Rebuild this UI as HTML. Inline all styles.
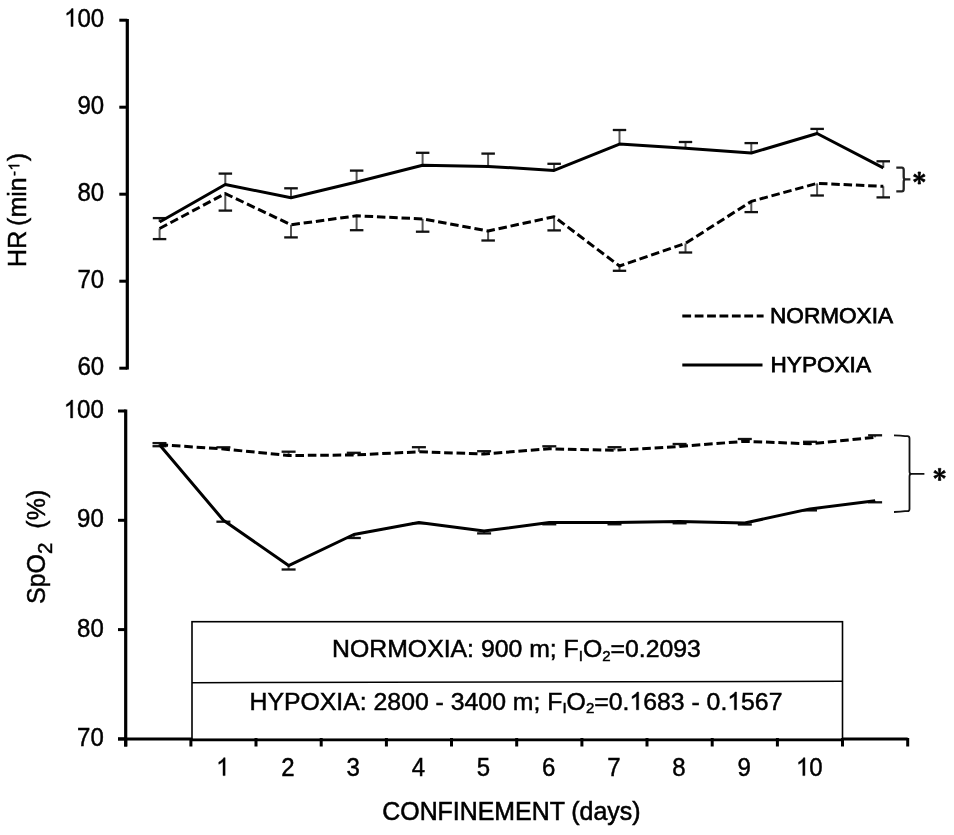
<!DOCTYPE html><html><head><meta charset="utf-8"><title>HR and SpO2 during confinement</title><style>
html,body{margin:0;padding:0;background:#fff;}
body{width:954px;height:835px;overflow:hidden;}
svg{display:block;will-change:transform;}
text{font-family:"Liberation Sans", sans-serif;fill:#000;}
.o{fill:none;}
</style></head><body>
<svg width="954" height="835" viewBox="0 0 954 835">
<defs><path id="one" d="M763,0 L583,0 L583,1147 Q518,1085 412,1023 Q306,961 223,930 L223,1104 Q372,1174 484,1274 Q596,1374 643,1466 L763,1466 Z"/></defs>
<rect width="954" height="835" fill="#fff"/>
<line x1="127.3" y1="19.0" x2="127.3" y2="369.5" stroke="#000" stroke-width="3.2" />
<line x1="119.3" y1="20.2" x2="127.3" y2="20.2" stroke="#000" stroke-width="3" />
<text transform="translate(104.20,26.50) scale(0.960,1)" x="0" y="0" font-size="25" text-anchor="end" stroke="#000" stroke-width="0.45"><tspan class="o" stroke="none">1</tspan>00</text>
<line x1="119.3" y1="107.2" x2="127.3" y2="107.2" stroke="#000" stroke-width="3" />
<text transform="translate(104.20,113.50) scale(0.960,1)" x="0" y="0" font-size="25" text-anchor="end" stroke="#000" stroke-width="0.45">90</text>
<line x1="119.3" y1="194.2" x2="127.3" y2="194.2" stroke="#000" stroke-width="3" />
<text transform="translate(104.20,200.50) scale(0.960,1)" x="0" y="0" font-size="25" text-anchor="end" stroke="#000" stroke-width="0.45">80</text>
<line x1="119.3" y1="281.2" x2="127.3" y2="281.2" stroke="#000" stroke-width="3" />
<text transform="translate(104.20,287.50) scale(0.960,1)" x="0" y="0" font-size="25" text-anchor="end" stroke="#000" stroke-width="0.45">70</text>
<line x1="119.3" y1="368.2" x2="127.3" y2="368.2" stroke="#000" stroke-width="3" />
<text transform="translate(104.20,374.50) scale(0.960,1)" x="0" y="0" font-size="25" text-anchor="end" stroke="#000" stroke-width="0.45">60</text>
<line x1="159.6" y1="222.0" x2="159.6" y2="218.1" stroke="#555" stroke-width="2" />
<line x1="152.8" y1="218.1" x2="166.3" y2="218.1" stroke="#111" stroke-width="2.3" />
<line x1="225.3" y1="184.5" x2="225.3" y2="173.6" stroke="#555" stroke-width="2" />
<line x1="218.6" y1="173.6" x2="232.1" y2="173.6" stroke="#111" stroke-width="2.3" />
<line x1="291.0" y1="197.7" x2="291.0" y2="188.3" stroke="#555" stroke-width="2" />
<line x1="284.2" y1="188.3" x2="297.8" y2="188.3" stroke="#111" stroke-width="2.3" />
<line x1="356.6" y1="182.0" x2="356.6" y2="170.6" stroke="#555" stroke-width="2" />
<line x1="349.9" y1="170.6" x2="363.4" y2="170.6" stroke="#111" stroke-width="2.3" />
<line x1="422.6" y1="165.3" x2="422.6" y2="152.8" stroke="#555" stroke-width="2" />
<line x1="415.9" y1="152.8" x2="429.4" y2="152.8" stroke="#111" stroke-width="2.3" />
<line x1="488.1" y1="166.4" x2="488.1" y2="153.6" stroke="#555" stroke-width="2" />
<line x1="481.4" y1="153.6" x2="494.9" y2="153.6" stroke="#111" stroke-width="2.3" />
<line x1="554.1" y1="170.4" x2="554.1" y2="163.8" stroke="#555" stroke-width="2" />
<line x1="547.4" y1="163.8" x2="560.9" y2="163.8" stroke="#111" stroke-width="2.3" />
<line x1="619.5" y1="144.1" x2="619.5" y2="130.0" stroke="#555" stroke-width="2" />
<line x1="612.8" y1="130.0" x2="626.2" y2="130.0" stroke="#111" stroke-width="2.3" />
<line x1="685.5" y1="148.3" x2="685.5" y2="142.0" stroke="#555" stroke-width="2" />
<line x1="678.8" y1="142.0" x2="692.2" y2="142.0" stroke="#111" stroke-width="2.3" />
<line x1="751.3" y1="153.0" x2="751.3" y2="143.1" stroke="#555" stroke-width="2" />
<line x1="744.5" y1="143.1" x2="758.0" y2="143.1" stroke="#111" stroke-width="2.3" />
<line x1="817.1" y1="133.5" x2="817.1" y2="128.9" stroke="#555" stroke-width="2" />
<line x1="810.4" y1="128.9" x2="823.9" y2="128.9" stroke="#111" stroke-width="2.3" />
<line x1="883.3" y1="167.8" x2="883.3" y2="161.3" stroke="#555" stroke-width="2" />
<line x1="876.5" y1="161.3" x2="890.0" y2="161.3" stroke="#111" stroke-width="2.3" />
<line x1="159.6" y1="228.5" x2="159.6" y2="239.1" stroke="#555" stroke-width="2" />
<line x1="152.8" y1="239.1" x2="166.3" y2="239.1" stroke="#111" stroke-width="2.3" />
<line x1="225.3" y1="193.6" x2="225.3" y2="210.6" stroke="#555" stroke-width="2" />
<line x1="218.6" y1="210.6" x2="232.1" y2="210.6" stroke="#111" stroke-width="2.3" />
<line x1="291.0" y1="224.8" x2="291.0" y2="237.4" stroke="#555" stroke-width="2" />
<line x1="284.2" y1="237.4" x2="297.8" y2="237.4" stroke="#111" stroke-width="2.3" />
<line x1="356.6" y1="215.8" x2="356.6" y2="230.2" stroke="#555" stroke-width="2" />
<line x1="349.9" y1="230.2" x2="363.4" y2="230.2" stroke="#111" stroke-width="2.3" />
<line x1="422.6" y1="218.9" x2="422.6" y2="231.7" stroke="#555" stroke-width="2" />
<line x1="415.9" y1="231.7" x2="429.4" y2="231.7" stroke="#111" stroke-width="2.3" />
<line x1="488.1" y1="231.0" x2="488.1" y2="240.5" stroke="#555" stroke-width="2" />
<line x1="481.4" y1="240.5" x2="494.9" y2="240.5" stroke="#111" stroke-width="2.3" />
<line x1="554.1" y1="216.7" x2="554.1" y2="230.4" stroke="#555" stroke-width="2" />
<line x1="547.4" y1="230.4" x2="560.9" y2="230.4" stroke="#111" stroke-width="2.3" />
<line x1="619.5" y1="266.0" x2="619.5" y2="270.8" stroke="#555" stroke-width="2" />
<line x1="612.8" y1="270.8" x2="626.2" y2="270.8" stroke="#111" stroke-width="2.3" />
<line x1="685.5" y1="243.4" x2="685.5" y2="252.5" stroke="#555" stroke-width="2" />
<line x1="678.8" y1="252.5" x2="692.2" y2="252.5" stroke="#111" stroke-width="2.3" />
<line x1="751.3" y1="201.4" x2="751.3" y2="212.1" stroke="#555" stroke-width="2" />
<line x1="744.5" y1="212.1" x2="758.0" y2="212.1" stroke="#111" stroke-width="2.3" />
<line x1="817.1" y1="183.4" x2="817.1" y2="195.5" stroke="#555" stroke-width="2" />
<line x1="810.4" y1="195.5" x2="823.9" y2="195.5" stroke="#111" stroke-width="2.3" />
<line x1="883.3" y1="186.3" x2="883.3" y2="197.4" stroke="#555" stroke-width="2" />
<line x1="876.5" y1="197.4" x2="890.0" y2="197.4" stroke="#111" stroke-width="2.3" />
<polyline points="159.6,222.0 225.3,184.5 291.0,197.7 356.6,182.0 422.6,165.3 488.1,166.4 554.1,170.4 619.5,144.1 685.5,148.3 751.3,153.0 817.1,133.5 883.3,167.8" fill="none" stroke="#000" stroke-width="3.0" stroke-linejoin="round"/>
<polyline points="159.6,228.5 225.3,193.6 291.0,224.8 356.6,215.8 422.6,218.9 488.1,231.0 554.1,216.7 619.5,266.0 685.5,243.4 751.3,201.4 817.1,183.4 883.3,186.3" fill="none" stroke="#000" stroke-width="3.0" stroke-linejoin="round" stroke-dasharray="8.5 3.8"/>
<path d="M896.3,167.6 H901.8 Q903.7,167.6 903.7,170 V177 Q903.7,179.4 905.5,179.4 H910.4 M905.5,179.4 Q903.7,179.4 903.7,182 V189 Q903.7,191.4 901.8,191.4 H896.3" fill="none" stroke="#222" stroke-width="2.3"/>
<line x1="682.3" y1="316.0" x2="763.6" y2="316.0" stroke="#000" stroke-width="3" stroke-dasharray="8.8 3.6"/>
<line x1="682.3" y1="365.0" x2="762.5" y2="365.0" stroke="#000" stroke-width="3.2" />
<text x="770" y="323.1" font-size="22.6" stroke="#000" stroke-width="0.75">NORMOXIA</text>
<text x="770.5" y="372.2" font-size="22.6" stroke="#000" stroke-width="0.75">HYPOXIA</text>
<text transform="translate(25.5,266.9) rotate(-90)" font-size="25" stroke="#000" stroke-width="0.45">HR<tspan x="41">(min</tspan><tspan font-size="15" dx="1.2" dy="-6.2">-</tspan><tspan class="o" stroke="none" font-size="15" dx="0.5">1</tspan><tspan dx="0.9" dy="6.2">)</tspan></text>
<line x1="125.7" y1="409.5" x2="125.7" y2="746.5" stroke="#000" stroke-width="3.2" />
<line x1="118.0" y1="411.0" x2="125.7" y2="411.0" stroke="#000" stroke-width="3" />
<text transform="translate(103.80,417.90) scale(0.960,1)" x="0" y="0" font-size="25" text-anchor="end" stroke="#000" stroke-width="0.45"><tspan class="o" stroke="none">1</tspan>00</text>
<line x1="118.0" y1="520.3" x2="125.7" y2="520.3" stroke="#000" stroke-width="3" />
<text transform="translate(103.80,527.20) scale(0.960,1)" x="0" y="0" font-size="25" text-anchor="end" stroke="#000" stroke-width="0.45">90</text>
<line x1="118.0" y1="629.6" x2="125.7" y2="629.6" stroke="#000" stroke-width="3" />
<text transform="translate(103.80,636.50) scale(0.960,1)" x="0" y="0" font-size="25" text-anchor="end" stroke="#000" stroke-width="0.45">80</text>
<line x1="118.0" y1="738.9" x2="125.7" y2="738.9" stroke="#000" stroke-width="3" />
<text transform="translate(103.80,745.80) scale(0.960,1)" x="0" y="0" font-size="25" text-anchor="end" stroke="#000" stroke-width="0.45">70</text>
<rect x="192" y="621.7" width="650.5" height="118" fill="#fff" stroke="#000" stroke-width="1.6"/>
<line x1="192.0" y1="682.7" x2="842.5" y2="681.3" stroke="#000" stroke-width="1.6" />
<line x1="118.0" y1="739.0" x2="192.0" y2="739.0" stroke="#000" stroke-width="3.2" />
<line x1="192.0" y1="739.8" x2="842.0" y2="739.8" stroke="#000" stroke-width="2.8" />
<line x1="842.0" y1="739.0" x2="907.7" y2="739.0" stroke="#000" stroke-width="3.2" />
<line x1="125.7" y1="738.0" x2="125.7" y2="746.5" stroke="#000" stroke-width="3" />
<line x1="190.9" y1="738.0" x2="190.9" y2="746.5" stroke="#000" stroke-width="3" />
<line x1="256.0" y1="738.0" x2="256.0" y2="746.5" stroke="#000" stroke-width="3" />
<line x1="321.2" y1="738.0" x2="321.2" y2="746.5" stroke="#000" stroke-width="3" />
<line x1="386.4" y1="738.0" x2="386.4" y2="746.5" stroke="#000" stroke-width="3" />
<line x1="451.5" y1="738.0" x2="451.5" y2="746.5" stroke="#000" stroke-width="3" />
<line x1="516.7" y1="738.0" x2="516.7" y2="746.5" stroke="#000" stroke-width="3" />
<line x1="581.9" y1="738.0" x2="581.9" y2="746.5" stroke="#000" stroke-width="3" />
<line x1="647.0" y1="738.0" x2="647.0" y2="746.5" stroke="#000" stroke-width="3" />
<line x1="712.2" y1="738.0" x2="712.2" y2="746.5" stroke="#000" stroke-width="3" />
<line x1="777.4" y1="738.0" x2="777.4" y2="746.5" stroke="#000" stroke-width="3" />
<line x1="842.5" y1="738.0" x2="842.5" y2="746.5" stroke="#000" stroke-width="3" />
<line x1="907.7" y1="738.0" x2="907.7" y2="746.5" stroke="#000" stroke-width="3" />
<text transform="translate(222.85,775.60) scale(0.960,1)" x="0" y="0" font-size="25" text-anchor="middle" stroke="#000" stroke-width="0.45"><tspan class="o" stroke="none">1</tspan></text>
<text transform="translate(288.02,775.60) scale(0.960,1)" x="0" y="0" font-size="25" text-anchor="middle" stroke="#000" stroke-width="0.45">2</text>
<text transform="translate(353.18,775.60) scale(0.960,1)" x="0" y="0" font-size="25" text-anchor="middle" stroke="#000" stroke-width="0.45">3</text>
<text transform="translate(418.35,775.60) scale(0.960,1)" x="0" y="0" font-size="25" text-anchor="middle" stroke="#000" stroke-width="0.45">4</text>
<text transform="translate(483.52,775.60) scale(0.960,1)" x="0" y="0" font-size="25" text-anchor="middle" stroke="#000" stroke-width="0.45">5</text>
<text transform="translate(548.68,775.60) scale(0.960,1)" x="0" y="0" font-size="25" text-anchor="middle" stroke="#000" stroke-width="0.45">6</text>
<text transform="translate(613.85,775.60) scale(0.960,1)" x="0" y="0" font-size="25" text-anchor="middle" stroke="#000" stroke-width="0.45">7</text>
<text transform="translate(679.02,775.60) scale(0.960,1)" x="0" y="0" font-size="25" text-anchor="middle" stroke="#000" stroke-width="0.45">8</text>
<text transform="translate(744.18,775.60) scale(0.960,1)" x="0" y="0" font-size="25" text-anchor="middle" stroke="#000" stroke-width="0.45">9</text>
<text transform="translate(809.35,775.60) scale(0.960,1)" x="0" y="0" font-size="25" text-anchor="middle" stroke="#000" stroke-width="0.45"><tspan class="o" stroke="none">1</tspan>0</text>
<text x="511.4" y="819.6" font-size="24.9" text-anchor="middle" stroke="#000" stroke-width="0.55">CONFINEMENT (days)</text>
<text id="bt1" x="516.5" y="657.3" font-size="24.8" text-anchor="middle" stroke="#000" stroke-width="0.5">NORMOXIA: 900 m; F<tspan font-size="15" dy="3.5">I</tspan><tspan dy="-3.5">O</tspan><tspan font-size="15" dy="3.5">2</tspan><tspan dy="-3.5">=0.2093</tspan></text>
<text id="bt2" x="516" y="709.8" font-size="24.8" text-anchor="middle" stroke="#000" stroke-width="0.5">HYPOXIA: 2800 - 3400 m; F<tspan font-size="15" dy="3.5">I</tspan><tspan dy="-3.5">O</tspan><tspan font-size="15" dy="3.5">2</tspan><tspan dy="-3.5">=0.</tspan><tspan class="o" stroke="none">1</tspan>683 - 0.<tspan class="o" stroke="none">1</tspan>567</text>
<g transform="translate(104.20,26.50) scale(0.960,1)"><use href="#one" transform="translate(-41.73,0.00) scale(0.01221,-0.01221)" stroke="#000" stroke-width="36.864"/></g>
<g transform="translate(25.5,266.9) rotate(-90)"><use href="#one" transform="translate(96.31,-6.20) scale(0.00732,-0.00732)" stroke="#000" stroke-width="61.440"/></g>
<g transform="translate(103.80,417.90) scale(0.960,1)"><use href="#one" transform="translate(-41.73,0.00) scale(0.01221,-0.01221)" stroke="#000" stroke-width="36.864"/></g>
<g transform="translate(222.85,775.60) scale(0.960,1)"><use href="#one" transform="translate(-6.96,0.00) scale(0.01221,-0.01221)" stroke="#000" stroke-width="36.864"/></g>
<g transform="translate(809.35,775.60) scale(0.960,1)"><use href="#one" transform="translate(-13.92,0.00) scale(0.01221,-0.01221)" stroke="#000" stroke-width="36.864"/></g>
<use href="#one" transform="translate(629.39,709.80) scale(0.01211,-0.01211)" stroke="#000" stroke-width="41.290"/>
<use href="#one" transform="translate(727.28,709.80) scale(0.01211,-0.01211)" stroke="#000" stroke-width="41.290"/>
<line x1="159.5" y1="444.7" x2="159.5" y2="446.2" stroke="#555" stroke-width="2" />
<line x1="152.5" y1="446.2" x2="166.5" y2="446.2" stroke="#111" stroke-width="2.3" />
<line x1="223.4" y1="520.2" x2="223.4" y2="521.7" stroke="#555" stroke-width="2" />
<line x1="216.4" y1="521.7" x2="230.4" y2="521.7" stroke="#111" stroke-width="2.3" />
<line x1="288.6" y1="565.6" x2="288.6" y2="569.5" stroke="#555" stroke-width="2" />
<line x1="281.6" y1="569.5" x2="295.6" y2="569.5" stroke="#111" stroke-width="2.3" />
<line x1="353.8" y1="534.5" x2="353.8" y2="538.0" stroke="#555" stroke-width="2" />
<line x1="346.8" y1="538.0" x2="360.8" y2="538.0" stroke="#111" stroke-width="2.3" />
<line x1="418.9" y1="522.5" x2="418.9" y2="523.2" stroke="#555" stroke-width="2" />
<line x1="411.9" y1="523.2" x2="425.9" y2="523.2" stroke="#111" stroke-width="2.3" />
<line x1="484.1" y1="531.0" x2="484.1" y2="533.4" stroke="#555" stroke-width="2" />
<line x1="477.1" y1="533.4" x2="491.1" y2="533.4" stroke="#111" stroke-width="2.3" />
<line x1="549.3" y1="522.6" x2="549.3" y2="524.3" stroke="#555" stroke-width="2" />
<line x1="542.3" y1="524.3" x2="556.3" y2="524.3" stroke="#111" stroke-width="2.3" />
<line x1="614.5" y1="522.6" x2="614.5" y2="524.3" stroke="#555" stroke-width="2" />
<line x1="607.5" y1="524.3" x2="621.5" y2="524.3" stroke="#111" stroke-width="2.3" />
<line x1="679.6" y1="521.4" x2="679.6" y2="523.3" stroke="#555" stroke-width="2" />
<line x1="672.6" y1="523.3" x2="686.6" y2="523.3" stroke="#111" stroke-width="2.3" />
<line x1="744.8" y1="523.0" x2="744.8" y2="524.5" stroke="#555" stroke-width="2" />
<line x1="737.8" y1="524.5" x2="751.8" y2="524.5" stroke="#111" stroke-width="2.3" />
<line x1="810.0" y1="508.9" x2="810.0" y2="510.4" stroke="#555" stroke-width="2" />
<line x1="803.0" y1="510.4" x2="817.0" y2="510.4" stroke="#111" stroke-width="2.3" />
<line x1="875.1" y1="500.8" x2="875.1" y2="502.3" stroke="#555" stroke-width="2" />
<line x1="868.1" y1="502.3" x2="882.1" y2="502.3" stroke="#111" stroke-width="2.3" />
<line x1="159.5" y1="444.7" x2="159.5" y2="443.1" stroke="#555" stroke-width="2" />
<line x1="152.5" y1="443.1" x2="166.5" y2="443.1" stroke="#111" stroke-width="2.3" />
<line x1="223.4" y1="449.0" x2="223.4" y2="447.3" stroke="#555" stroke-width="2" />
<line x1="216.4" y1="447.3" x2="230.4" y2="447.3" stroke="#111" stroke-width="2.3" />
<line x1="288.6" y1="455.5" x2="288.6" y2="451.7" stroke="#555" stroke-width="2" />
<line x1="281.6" y1="451.7" x2="295.6" y2="451.7" stroke="#111" stroke-width="2.3" />
<line x1="353.8" y1="455.0" x2="353.8" y2="452.8" stroke="#555" stroke-width="2" />
<line x1="346.8" y1="452.8" x2="360.8" y2="452.8" stroke="#111" stroke-width="2.3" />
<line x1="418.9" y1="451.8" x2="418.9" y2="447.2" stroke="#555" stroke-width="2" />
<line x1="411.9" y1="447.2" x2="425.9" y2="447.2" stroke="#111" stroke-width="2.3" />
<line x1="484.1" y1="454.0" x2="484.1" y2="451.2" stroke="#555" stroke-width="2" />
<line x1="477.1" y1="451.2" x2="491.1" y2="451.2" stroke="#111" stroke-width="2.3" />
<line x1="549.3" y1="448.8" x2="549.3" y2="446.3" stroke="#555" stroke-width="2" />
<line x1="542.3" y1="446.3" x2="556.3" y2="446.3" stroke="#111" stroke-width="2.3" />
<line x1="614.5" y1="450.3" x2="614.5" y2="447.2" stroke="#555" stroke-width="2" />
<line x1="607.5" y1="447.2" x2="621.5" y2="447.2" stroke="#111" stroke-width="2.3" />
<line x1="679.6" y1="446.5" x2="679.6" y2="444.0" stroke="#555" stroke-width="2" />
<line x1="672.6" y1="444.0" x2="686.6" y2="444.0" stroke="#111" stroke-width="2.3" />
<line x1="744.8" y1="441.3" x2="744.8" y2="439.0" stroke="#555" stroke-width="2" />
<line x1="737.8" y1="439.0" x2="751.8" y2="439.0" stroke="#111" stroke-width="2.3" />
<line x1="810.0" y1="443.8" x2="810.0" y2="441.8" stroke="#555" stroke-width="2" />
<line x1="803.0" y1="441.8" x2="817.0" y2="441.8" stroke="#111" stroke-width="2.3" />
<line x1="875.1" y1="437.3" x2="875.1" y2="435.3" stroke="#555" stroke-width="2" />
<line x1="868.1" y1="435.3" x2="882.1" y2="435.3" stroke="#111" stroke-width="2.3" />
<polyline points="159.5,444.7 223.4,520.2 288.6,565.6 353.8,534.5 418.9,522.5 484.1,531.0 549.3,522.6 614.5,522.6 679.6,521.4 744.8,523.0 810.0,508.9 875.1,500.8" fill="none" stroke="#000" stroke-width="3.0" stroke-linejoin="round"/>
<polyline points="159.5,444.7 223.4,449.0 288.6,455.5 353.8,455.0 418.9,451.8 484.1,454.0 549.3,448.8 614.5,450.3 679.6,446.5 744.8,441.3 810.0,443.8 875.1,437.3" fill="none" stroke="#000" stroke-width="3.0" stroke-linejoin="round" stroke-dasharray="8.6 3.8"/>
<path d="M894,435.3 Q901,435.3 905,436.1 H907.5 Q909.5,436.1 909.5,438.5 V471.5 Q909.5,473.9 911.5,473.9 H924.4 M911.5,473.9 Q909.5,473.9 909.5,476.3 V509 Q909.5,511.2 907.5,511.2 H905 Q901,512 894,512" fill="none" stroke="#111" stroke-width="1.8"/>
<text transform="translate(45.1,604) rotate(-90)" font-size="25" stroke="#000" stroke-width="0.45">SpO<tspan font-size="20.5" dy="7">2</tspan><tspan dy="-7">&#160; (%)</tspan></text>
<polygon points="919.75,178.00 920.60,172.00 918.00,172.00 918.85,178.00" fill="#000" stroke="#000" stroke-width="0.7" stroke-linejoin="round"/>
<polygon points="919.52,178.39 925.15,176.13 923.85,173.87 919.07,177.61" fill="#000" stroke="#000" stroke-width="0.7" stroke-linejoin="round"/>
<polygon points="919.07,178.39 923.85,182.13 925.15,179.87 919.52,177.61" fill="#000" stroke="#000" stroke-width="0.7" stroke-linejoin="round"/>
<polygon points="918.85,178.00 918.00,184.00 920.60,184.00 919.75,178.00" fill="#000" stroke="#000" stroke-width="0.7" stroke-linejoin="round"/>
<polygon points="919.52,177.61 914.75,173.87 913.45,176.13 919.07,178.39" fill="#000" stroke="#000" stroke-width="0.7" stroke-linejoin="round"/>
<polygon points="919.07,177.61 913.45,179.87 914.75,182.13 919.52,178.39" fill="#000" stroke="#000" stroke-width="0.7" stroke-linejoin="round"/>
<circle cx="919.30" cy="178.00" r="1.4" fill="#000"/>
<polygon points="940.05,474.40 940.90,468.40 938.30,468.40 939.15,474.40" fill="#000" stroke="#000" stroke-width="0.7" stroke-linejoin="round"/>
<polygon points="939.83,474.79 945.45,472.53 944.15,470.27 939.38,474.01" fill="#000" stroke="#000" stroke-width="0.7" stroke-linejoin="round"/>
<polygon points="939.38,474.79 944.15,478.53 945.45,476.27 939.83,474.01" fill="#000" stroke="#000" stroke-width="0.7" stroke-linejoin="round"/>
<polygon points="939.15,474.40 938.30,480.40 940.90,480.40 940.05,474.40" fill="#000" stroke="#000" stroke-width="0.7" stroke-linejoin="round"/>
<polygon points="939.83,474.01 935.05,470.27 933.75,472.53 939.38,474.79" fill="#000" stroke="#000" stroke-width="0.7" stroke-linejoin="round"/>
<polygon points="939.38,474.01 933.75,476.27 935.05,478.53 939.83,474.79" fill="#000" stroke="#000" stroke-width="0.7" stroke-linejoin="round"/>
<circle cx="939.60" cy="474.40" r="1.4" fill="#000"/>
</svg></body></html>
